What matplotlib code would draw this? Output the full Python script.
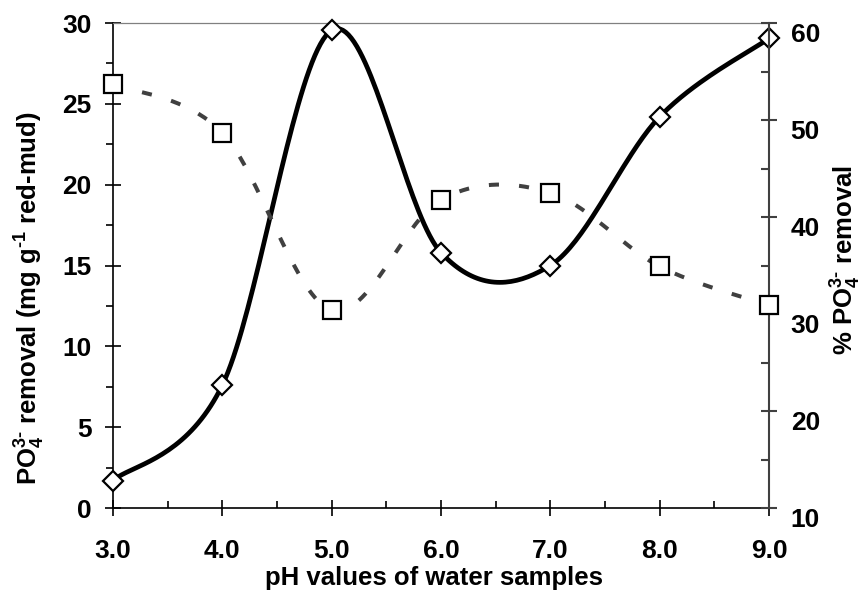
import numpy as np
import matplotlib
matplotlib.use("Agg")
import matplotlib.pyplot as plt
from matplotlib.transforms import ScaledTranslation

plt.rcParams["font.family"] = ["Liberation Sans", "DejaVu Sans"]
plt.rcParams["font.weight"] = "bold"
plt.rcParams["mathtext.fontset"] = "custom"
plt.rcParams["mathtext.rm"] = "Liberation Sans:bold"
plt.rcParams["mathtext.bf"] = "Liberation Sans:bold"
plt.rcParams["mathtext.it"] = "Liberation Sans:bold"
plt.rcParams["mathtext.sf"] = "Liberation Sans:bold"
plt.rcParams["mathtext.default"] = "rm"

# data
ph = [3.0, 4.0, 5.0, 6.0, 7.0, 8.0, 9.0]
removal_mg = [1.7, 7.6, 29.55, 15.8, 15.0, 24.2, 29.05]   # left axis, diamonds
removal_pct = [53.7, 48.7, 30.4, 41.8, 42.5, 34.9, 30.9]  # right axis, squares
x_ticks = [3.0, 4.0, 5.0, 6.0, 7.0, 8.0, 9.0]
left_ticks = [0, 5, 10, 15, 20, 25, 30]
right_ticks = [10, 20, 30, 40, 50, 60]


def smooth(x, y, n=40):
    # spreadsheet-style smoothed line (Catmull-Rom bezier)
    x = np.asarray(x, float)
    y = np.asarray(y, float)
    px = np.concatenate([[x[0]], x, [x[-1]]])
    py = np.concatenate([[y[0]], y, [y[-1]]])
    xs, ys = [], []
    t = np.linspace(0, 1, n)
    for i in range(len(x) - 1):
        p0 = np.array([px[i + 1], py[i + 1]])
        p3 = np.array([px[i + 2], py[i + 2]])
        c1 = p0 + (p3 - np.array([px[i], py[i]])) / 6
        c2 = p3 - (np.array([px[i + 3], py[i + 3]]) - p0) / 6
        b = ((1 - t) ** 3)[:, None] * p0 + (3 * (1 - t) ** 2 * t)[:, None] * c1 \
            + (3 * (1 - t) * t ** 2)[:, None] * c2 + (t ** 3)[:, None] * p3
        xs.extend(b[:, 0])
        ys.extend(b[:, 1])
    return np.array(xs), np.array(ys)


fig = plt.figure(figsize=(8.65, 5.93), dpi=100)
ax = fig.add_axes([0.1306, 0.1433, 0.7584, 0.8179])
ax2 = ax.twinx()

sx, sy = smooth(ph, removal_mg)
ax.plot(sx, sy, color="black", lw=3.4, zorder=2)
ax.plot(ph, removal_mg, ls="none", marker="D", ms=10, mfc="white", mec="black",
        mew=1.6, clip_on=False, zorder=3)

dx, dy = smooth(ph, removal_pct)
ax2.plot(dx, dy, color="#404040", lw=2.9, ls=(0, (2.5, 5)), dash_capstyle="butt", zorder=2)
ax2.plot(ph, removal_pct, ls="none", marker="s", ms=13, mfc="white", mec="black",
         mew=1.6, clip_on=False, zorder=3)

ax.set_xlim(3, 9)
ax.set_ylim(0, 30)
ax2.set_ylim(10, 60)
ax.set_xticks(x_ticks)
ax.set_xticklabels([f"{v:.1f}" for v in x_ticks])
ax.set_xticks(np.arange(3.5, 9, 1.0), minor=True)
ax.set_yticks(left_ticks)
ax.set_yticks(np.arange(2.5, 30, 5), minor=True)
ax2.set_yticks(right_ticks)
ax2.set_yticks(np.arange(15, 60, 10), minor=True)

for a in (ax, ax2):
    a.patch.set_visible(False)
ax.spines["left"].set_linewidth(1.2)
ax.spines["bottom"].set_linewidth(1.2)
ax.spines["top"].set_color("#808080")
ax.spines["top"].set_linewidth(0.9)
ax.spines["right"].set_visible(False)
ax2.spines["left"].set_visible(False)
ax2.spines["bottom"].set_visible(False)
ax2.spines["top"].set_visible(False)
ax2.spines["right"].set_color("#404040")
ax2.spines["right"].set_linewidth(1.5)

fs = 19
ax.tick_params(axis="x", which="major", direction="inout", length=11, width=1.2,
               pad=17, labelsize=fs)
ax.tick_params(axis="x", which="minor", direction="in", length=5, width=1.2)
ax.tick_params(axis="y", which="major", direction="inout", length=11, width=1.2,
               pad=9.7, labelsize=fs)
ax.tick_params(axis="y", which="minor", direction="out", length=5, width=1.2)
ax2.tick_params(axis="y", which="major", direction="inout", length=12, width=1.5,
                color="#404040", pad=9.6, labelsize=fs)
ax2.tick_params(axis="y", which="minor", direction="in", length=6, width=1.5,
                color="#404040")

for lab in ax2.get_yticklabels():
    lab.set_transform(lab.get_transform() + ScaledTranslation(0, -7 / 72, fig.dpi_scale_trans))

lfs = 18.5
ax.set_xlabel("pH values of water samples", fontsize=lfs, fontweight="bold", va="center")
ax.xaxis.set_label_coords(0.49, -0.145)
ax.set_ylabel("PO$_4^{3\u2010}$ removal (mg g$^{\u20101}$ red-mud)", fontsize=lfs,
              fontweight="bold", va="center")
ax.yaxis.set_label_coords(-0.127, 0.433)
ax2.set_ylabel("% PO$_4^{3\u2010}$ removal", fontsize=lfs, fontweight="bold",
               rotation=90, va="center")
ax2.yaxis.set_label_coords(1.117, 0.511)

fig.savefig("out.png", dpi=100)
